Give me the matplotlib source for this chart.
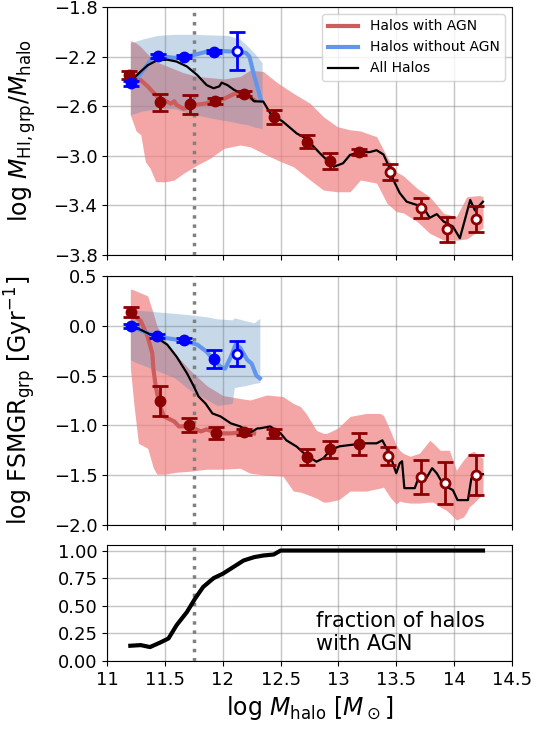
import numpy as np
import matplotlib.pyplot as plt
from matplotlib.ticker import FormatStrFormatter, MultipleLocator

# ---------------- top panel: HI mass fraction ----------------
# running medians
hi_agn_x = [11.2, 11.29, 11.35, 11.43, 11.49, 11.55, 11.58, 11.6, 11.66, 11.75, 11.84, 11.92, 12.01, 12.1, 12.18, 12.27]
hi_agn_y = [-2.335, -2.39, -2.44, -2.52, -2.55, -2.58, -2.56, -2.59, -2.62, -2.59, -2.58, -2.56, -2.54, -2.50, -2.50, -2.55]

hi_noagn_x = [11.22, 11.32, 11.40, 11.49, 11.58, 11.69, 11.78, 11.86, 11.98, 12.1, 12.2, 12.23, 12.27, 12.3, 12.33]
hi_noagn_y = [-2.42, -2.30, -2.20, -2.20, -2.21, -2.20, -2.18, -2.16, -2.155, -2.16, -2.17, -2.20, -2.35, -2.45, -2.55]

hi_all_x = [11.23, 11.29, 11.35, 11.43, 11.52, 11.6, 11.69, 11.78, 11.86, 11.92, 11.97, 11.99, 12.04, 12.1,
            12.15, 12.21, 12.27, 12.35, 12.41, 12.52, 12.64, 12.72, 12.84, 12.96, 13.04, 13.10, 13.19, 13.27,
            13.33, 13.39, 13.45, 13.475, 13.53, 13.59, 13.68, 13.73, 13.79, 13.85, 13.91, 13.99, 14.05, 14.14,
            14.18, 14.25]
hi_all_y = [-2.375, -2.32, -2.27, -2.23, -2.225, -2.24, -2.28, -2.35, -2.43, -2.455, -2.44, -2.41, -2.43, -2.47,
            -2.49, -2.50, -2.56, -2.563, -2.657, -2.725, -2.82, -2.86, -2.98, -3.088, -3.06, -2.993, -2.97, -2.97,
            -2.955, -2.99, -3.115, -3.195, -3.30, -3.37, -3.397, -3.41, -3.50, -3.47, -3.53, -3.57, -3.665, -3.356,
            -3.44, -3.37]

# 16-84 percentile bands
hi_agn_band_x = [11.2, 11.25, 11.29, 11.33, 11.37, 11.42, 11.5, 11.58, 11.66, 11.78, 11.89, 12.01, 12.15, 12.236,
                 12.35, 12.47, 12.61, 12.755, 12.87, 12.99, 13.10, 13.19, 13.33, 13.42, 13.5, 13.56, 13.68, 13.79,
                 13.91, 14.02, 14.11, 14.22, 14.25]
hi_agn_band_lo = [-2.67, -2.80, -2.83, -3.047, -3.10, -3.208, -3.21, -3.195, -3.141, -3.074, -3.02, -2.94, -2.913,
                  -2.927, -2.98, -3.034, -3.088, -3.195, -3.276, -3.29, -3.29, -3.195, -3.22, -3.383, -3.45, -3.46,
                  -3.53, -3.625, -3.68, -3.68, -3.67, -3.60, -3.58]
hi_agn_band_hi = [-2.07, -2.09, -2.12, -2.16, -2.2, -2.24, -2.27, -2.3, -2.33, -2.36, -2.37, -2.38, -2.36, -2.31,
                  -2.32, -2.41, -2.496, -2.577, -2.685, -2.765, -2.79, -2.80, -2.846, -3.007, -3.13, -3.16, -3.262,
                  -3.33, -3.464, -3.49, -3.33, -3.32, -3.33]

hi_noagn_band_x = [11.2, 11.3, 11.43, 11.58, 11.72, 11.92, 12.05, 12.15, 12.22, 12.28, 12.34]
hi_noagn_band_lo = [-2.67, -2.64, -2.62, -2.62, -2.66, -2.70, -2.72, -2.74, -2.75, -2.77, -2.78]
hi_noagn_band_hi = [-2.09, -2.06, -2.03, -2.02, -2.02, -2.026, -2.03, -2.06, -2.12, -2.18, -2.25]

# binned points with errors
hi_agn_bin_x = [11.19, 11.46, 11.72, 11.93, 12.18, 12.44, 12.73, 12.93, 13.18, 13.45, 13.71, 13.94, 14.19]
hi_agn_bin_y = [-2.348, -2.569, -2.585, -2.558, -2.50, -2.685, -2.886, -3.04, -2.972, -3.133, -3.418, -3.593, -3.51]
hi_agn_bin_err = [0.035, 0.07, 0.075, 0.025, 0.02, 0.055, 0.055, 0.065, 0.025, 0.065, 0.08, 0.1, 0.105]
hi_agn_bin_open = [False] * 9 + [True] * 4

hi_noagn_bin_x = [11.21, 11.44, 11.66, 11.92, 12.12]
hi_noagn_bin_y = [-2.415, -2.195, -2.20, -2.16, -2.155]
hi_noagn_bin_err = [0.02, 0.015, 0.015, 0.015, 0.155]
hi_noagn_bin_open = [False, False, False, False, True]

# ---------------- middle panel: FSMGR ----------------
sf_agn_x = [11.21, 11.29, 11.35, 11.39, 11.40, 11.42, 11.45, 11.49, 11.58, 11.62, 11.71, 11.81, 11.86, 11.95,
            12.07, 12.18, 12.27]
sf_agn_y = [0.12, 0.05, -0.109, -0.276, -0.44, -0.61, -0.78, -0.91, -0.96, -1.01, -1.01, -1.06, -1.04, -1.08,
            -1.08, -1.07, -1.08]

sf_noagn_x = [11.21, 11.32, 11.43, 11.55, 11.66, 11.78, 11.86, 11.92, 11.98, 12.02, 12.07, 12.11, 12.15, 12.21,
              12.25, 12.29, 12.32]
sf_noagn_y = [-0.01, -0.06, -0.11, -0.13, -0.15, -0.19, -0.26, -0.343, -0.41, -0.43, -0.31, -0.19, -0.22, -0.34,
              -0.38, -0.5, -0.527]

sf_all_x = [11.22, 11.29, 11.43, 11.52, 11.6, 11.69, 11.75, 11.79, 11.85, 11.91, 11.98, 12.07, 12.15, 12.24,
            12.30, 12.32, 12.41, 12.5, 12.55, 12.64, 12.72, 12.81, 12.87, 12.93, 13.01, 13.10, 13.22, 13.33,
            13.38, 13.446, 13.50, 13.53, 13.55, 13.57, 13.66, 13.70, 13.76, 13.81, 13.85, 13.91, 13.99, 14.03,
            14.12, 14.15, 14.19, 14.25]
sf_all_y = [-0.01, -0.04, -0.12, -0.19, -0.31, -0.477, -0.61, -0.71, -0.78, -0.88, -0.91, -0.98, -1.01, -1.07,
            -1.03, -1.03, -1.01, -1.08, -1.15, -1.214, -1.30, -1.364, -1.33, -1.247, -1.21, -1.197, -1.18, -1.18,
            -1.15, -1.30, -1.48, -1.38, -1.36, -1.63, -1.63, -1.50, -1.53, -1.43, -1.48, -1.6, -1.65, -1.75,
            -1.75, -1.53, -1.50, -1.49]

sf_agn_band_x = [11.2, 11.23, 11.27, 11.35, 11.40, 11.43, 11.5, 11.6, 11.72, 11.86, 12.0, 12.15, 12.236, 12.38,
                 12.52, 12.61, 12.67, 12.72, 12.81, 12.87, 12.9, 12.99, 13.01, 13.10, 13.24, 13.36, 13.39, 13.446,
                 13.5, 13.53, 13.56, 13.62, 13.70, 13.79, 13.82, 13.88, 13.93, 13.96, 14.02, 14.08, 14.11, 14.13,
                 14.17, 14.22, 14.25]
sf_agn_band_lo = [-0.42, -0.78, -1.18, -1.23, -1.43, -1.49, -1.49, -1.47, -1.46, -1.44, -1.44, -1.43, -1.48, -1.50,
                  -1.51, -1.66, -1.67, -1.69, -1.73, -1.77, -1.77, -1.75, -1.74, -1.66, -1.66, -1.63, -1.62, -1.72,
                  -1.79, -1.76, -1.77, -1.78, -1.78, -1.77, -1.77, -1.82, -1.85, -1.88, -1.95, -1.92, -1.87, -1.82,
                  -1.78, -1.72, -1.7]
sf_agn_band_hi = [0.37, 0.36, 0.34, 0.30, 0.12, 0.0, -0.15, -0.3, -0.45, -0.6, -0.7, -0.73, -0.745, -0.695,
                  -0.71, -0.78, -0.81, -0.88, -1.05, -1.08, -1.08, -1.03, -1.01, -0.91, -0.88, -0.88, -0.9, -1.046,
                  -1.2, -1.25, -1.28, -1.31, -1.28, -1.15, -1.18, -1.25, -1.25, -1.25, -1.45, -1.35, -1.31, -1.28,
                  -1.26, -1.31, -1.33]

sf_noagn_band_x = [11.2, 11.23, 11.43, 11.58, 11.72, 11.86, 11.95, 12.08, 12.1, 12.2, 12.27, 12.32]
sf_noagn_band_lo = [-0.34, -0.36, -0.45, -0.52, -0.65, -0.74, -0.8, -0.78, -0.62, -0.6, -0.58, -0.57]
sf_noagn_band_hi = [0.16, 0.16, 0.14, 0.125, 0.11, 0.09, 0.07, 0.06, 0.08, 0.05, 0.03, 0.075]

sf_agn_bin_x = [11.21, 11.46, 11.71, 11.94, 12.18, 12.44, 12.73, 12.93, 13.18, 13.43, 13.71, 13.92, 14.19]
sf_agn_bin_y = [0.142, -0.752, -0.996, -1.073, -1.07, -1.08, -1.314, -1.24, -1.19, -1.31, -1.515, -1.575, -1.5]
sf_agn_bin_err = [0.05, 0.15, 0.07, 0.06, 0.03, 0.045, 0.08, 0.085, 0.11, 0.09, 0.17, 0.21, 0.2]
sf_agn_bin_open = [False] * 9 + [True] * 4

sf_noagn_bin_x = [11.21, 11.43, 11.66, 11.92, 12.12]
sf_noagn_bin_y = [0.0, -0.1, -0.14, -0.333, -0.28]
sf_noagn_bin_err = [0.02, 0.02, 0.02, 0.09, 0.125]
sf_noagn_bin_open = [False, False, False, False, True]

# ---------------- bottom panel: AGN fraction ----------------
frac_x = [11.2, 11.29, 11.37, 11.46, 11.53, 11.6, 11.69, 11.76, 11.83, 11.92, 12.0, 12.09, 12.18, 12.27, 12.35,
          12.44, 12.5, 14.25]
frac_y = [0.138, 0.144, 0.126, 0.168, 0.204, 0.324, 0.444, 0.565, 0.67, 0.75, 0.79, 0.85, 0.91, 0.94, 0.955,
          0.964, 1.0, 1.0]

hi_ticks = [-3.8, -3.4, -3.0, -2.6, -2.2, -1.8]

m_split = 11.75


def binned(ax, x, y, err, is_open, color):
    for xi, yi, ei, op in zip(x, y, err, is_open):
        ax.errorbar(xi, yi, yerr=ei, fmt='o', color=color, ms=6.5, mec=color,
                    mfc='white' if op else color, mew=2, elinewidth=2, capsize=5.5,
                    capthick=2, zorder=6)


def panel(ax, agn, noagn, allh, agn_band, noagn_band, agn_bin, noagn_bin):
    ax.fill_between(agn_band[0], agn_band[1], agn_band[2], color='lightcoral', alpha=0.7, lw=0, zorder=1)
    ax.fill_between(noagn_band[0], noagn_band[1], noagn_band[2], color='steelblue', alpha=0.3, lw=0, zorder=2)
    ax.axvline(m_split, color='gray', ls=':', lw=2.5, zorder=3)
    ax.plot(agn[0], agn[1], color='indianred', lw=3, label='Halos with AGN', zorder=4)
    ax.plot(noagn[0], noagn[1], color='cornflowerblue', lw=3, label='Halos without AGN', zorder=4)
    ax.plot(allh[0], allh[1], color='k', lw=1.6, label='All Halos', zorder=5)
    binned(ax, *agn_bin, 'darkred')
    binned(ax, *noagn_bin, 'blue')


plt.rcParams['font.size'] = 13

fig = plt.figure(figsize=(5.36, 7.36), dpi=100)
ax1 = fig.add_axes([0.2, 0.6535, 0.755, 0.337])
ax2 = fig.add_axes([0.2, 0.2867, 0.755, 0.3383])
ax3 = fig.add_axes([0.2, 0.1019, 0.755, 0.1576])

panel(ax1, (hi_agn_x, hi_agn_y), (hi_noagn_x, hi_noagn_y), (hi_all_x, hi_all_y),
      (hi_agn_band_x, hi_agn_band_lo, hi_agn_band_hi), (hi_noagn_band_x, hi_noagn_band_lo, hi_noagn_band_hi),
      (hi_agn_bin_x, hi_agn_bin_y, hi_agn_bin_err, hi_agn_bin_open),
      (hi_noagn_bin_x, hi_noagn_bin_y, hi_noagn_bin_err, hi_noagn_bin_open))
panel(ax2, (sf_agn_x, sf_agn_y), (sf_noagn_x, sf_noagn_y), (sf_all_x, sf_all_y),
      (sf_agn_band_x, sf_agn_band_lo, sf_agn_band_hi), (sf_noagn_band_x, sf_noagn_band_lo, sf_noagn_band_hi),
      (sf_agn_bin_x, sf_agn_bin_y, sf_agn_bin_err, sf_agn_bin_open),
      (sf_noagn_bin_x, sf_noagn_bin_y, sf_noagn_bin_err, sf_noagn_bin_open))

ax3.plot(frac_x, frac_y, color='k', lw=3, zorder=4)
ax3.axvline(m_split, color='gray', ls=':', lw=2.5, zorder=3)
ax3.text(12.81, 0.1, 'fraction of halos\nwith AGN', fontsize=15, ha='left', va='baseline')

ax1.set_ylim(-3.8, -1.8)
ax1.set_yticks(hi_ticks)
ax2.set_ylim(-2.0, 0.5)
ax2.yaxis.set_major_locator(MultipleLocator(0.5))
ax3.set_ylim(0, 1.05)
ax3.yaxis.set_major_locator(MultipleLocator(0.25))

for ax in (ax1, ax2, ax3):
    ax.set_xlim(11, 14.5)
    ax.xaxis.set_major_locator(MultipleLocator(0.5))
    ax.xaxis.set_major_formatter(FormatStrFormatter('%g'))
    ax.grid(True, color='gray', alpha=0.45, lw=1)
    ax.set_axisbelow(True)
    ax.yaxis.set_label_coords(-0.17, 0.5)
for ax in (ax1, ax2):
    ax.tick_params(labelbottom=False)

ax1.set_ylabel(r'log $M_{\rm HI,grp}/M_{\rm halo}$', fontsize=17)
ax2.set_ylabel(r'log FSMGR$_{\rm grp}$ [Gyr$^{-1}$]', fontsize=17)
ax3.set_xlabel(r'log $M_{\rm halo}$ [$M_\odot$]', fontsize=17)

ax1.legend(loc='upper right', fontsize=10, handlelength=2.2)

fig.savefig('out.png', dpi=100)
